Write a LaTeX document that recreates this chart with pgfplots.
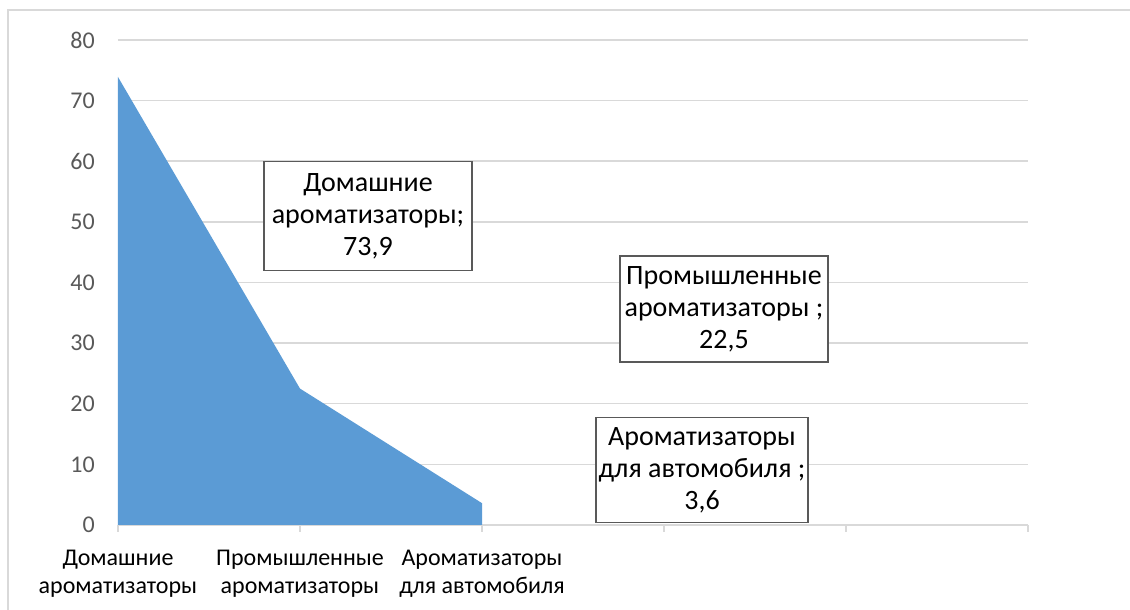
\documentclass[border=0pt]{standalone}
\usepackage{pgfplots}
\pgfplotsset{compat=1.18}
\usepackage{fontspec}
\setmainfont{Carlito}
\definecolor{areablue}{HTML}{5B9BD5}
\definecolor{gridgray}{HTML}{D9D9D9}
\definecolor{ticktext}{HTML}{595959}
\definecolor{boxedge}{HTML}{595959}
\definecolor{labeltext}{HTML}{000000}

\begin{document}
\begin{tikzpicture}[x=1pt,y=1pt]
\useasboundingbox (0,0) rectangle (1130,610);
% chart frame
\draw[gridgray, line width=1.5pt] (8,-5) -- (8,600) -- (1135,600);
\begin{axis}[
  at={(118pt,85pt)}, anchor=south west,
  scale only axis, width=910pt, height=485pt,
  xmin=0, xmax=5, ymin=0, ymax=80,
  xtick={0,1,2,3,4,5},
  xticklabels={{Домашние\\ароматизаторы},{Промышленные\\ароматизаторы},{Ароматизаторы\\для автомобиля},{},{},{}},
  ytick={0,10,...,80},
  axis x line*=bottom, axis y line*=left,
  x axis line style={draw=gridgray, line width=1.5pt, -},
  y axis line style={draw=none},
  xtick style={draw=gridgray, line width=1.5pt},
  ytick style={draw=none},
  tick align=outside, major tick length=7pt,
  ymajorgrids, grid style={draw=gridgray, line width=1.5pt},
  xticklabel style={align=center, font=\fontsize{24}{28}\selectfont, text=black, inner sep=0pt, yshift=-18pt},
  yticklabel style={font=\fontsize{24}{28}\selectfont, text=ticktext, anchor=east, inner sep=0pt, xshift=-16pt},
  /pgf/number format/assume math mode=true,
  clip=false,
]
\addplot[fill=areablue, draw=none] coordinates {(0,73.9) (1,22.5) (2,3.6)} \closedcycle;
\end{axis}
% data labels
\tikzset{dlabel/.style={draw=boxedge, line width=1.5pt, fill=white, align=center, text=labeltext,
  font=\fontsize{28}{32}\selectfont, inner sep=0pt}}
\node[dlabel, minimum width=208pt, minimum height=109pt] at (368,394) {Домашние\\ароматизаторы;\\73,9};
\node[dlabel, minimum width=208pt, minimum height=106pt] at (724,301) {Промышленные\\ароматизаторы ;\\22,5};
\node[dlabel, minimum width=212pt, minimum height=105pt] at (702,140) {Ароматизаторы\\для автомобиля ;\\3,6};
\end{tikzpicture}
\end{document}
